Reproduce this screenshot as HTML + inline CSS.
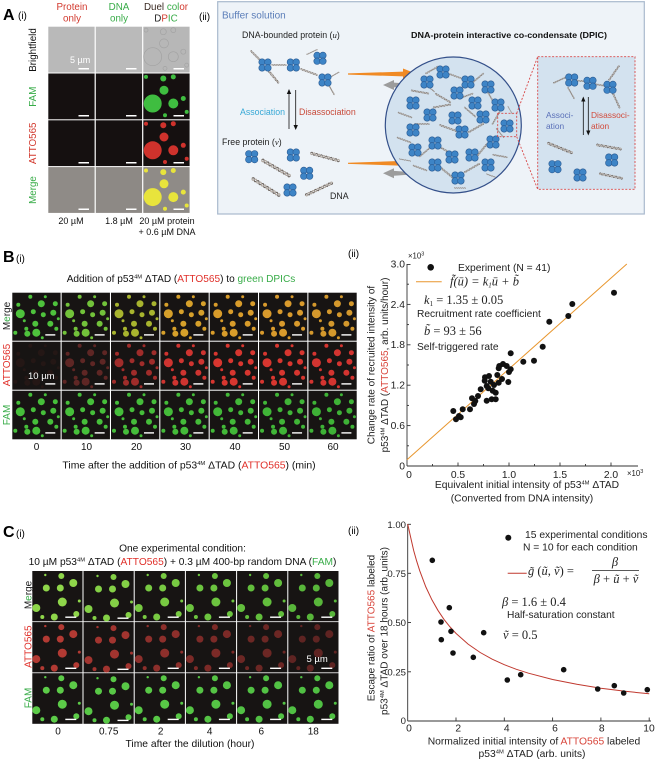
<!DOCTYPE html>
<html><head><meta charset="utf-8"><style>
html,body{margin:0;padding:0;background:#fff;}
svg{display:block;}
text{font-family:"Liberation Sans",Arial,sans-serif;}
.s{font-family:"Liberation Serif","DejaVu Serif",serif;}
</style></head><body>
<svg width="655" height="762" viewBox="0 0 655 762" xmlns="http://www.w3.org/2000/svg" xmlns:xlink="http://www.w3.org/1999/xlink">
<defs>
<g id="pr" fill="#3d84c6" stroke="#2a5a92" stroke-width="0.6"><circle cx="-2.9" cy="-2.9" r="3.3"/><circle cx="2.9" cy="-2.9" r="3.3"/><circle cx="-2.9" cy="2.9" r="3.3"/><circle cx="2.9" cy="2.9" r="3.3"/></g>
<g id="dna" fill="none"><path d="M-15,0 Q-13.75,-2.4 -12.5,0 T-10,0 T-7.5,0 T-5,0 T-2.5,0 T0,0 T2.5,0 T5,0 T7.5,0 T10,0 T12.5,0 T15,0" stroke="#6f6762" stroke-width="1.1"/><path d="M-15,0 Q-13.75,2.4 -12.5,0 T-10,0 T-7.5,0 T-5,0 T-2.5,0 T0,0 T2.5,0 T5,0 T7.5,0 T10,0 T12.5,0 T15,0" stroke="#b0a79f" stroke-width="1.1"/></g>
<g id="bp" fill="currentColor"><circle cx="29" cy="11" r="3.5"/><circle cx="18" cy="4" r="2"/><circle cx="43" cy="11" r="2.5"/><circle cx="8" cy="21" r="4.5"/><circle cx="6" cy="12" r="2"/><circle cx="21" cy="19" r="2.5"/><circle cx="31" cy="22" r="2.5"/><circle cx="41" cy="20" r="3"/><circle cx="23" cy="31" r="3"/><circle cx="38" cy="31" r="3"/><circle cx="14" cy="36" r="2"/><circle cx="24" cy="40" r="4"/><circle cx="15" cy="41" r="3"/><circle cx="3" cy="40" r="2"/><circle cx="44" cy="36" r="2"/><circle cx="33" cy="4" r="1.5"/><circle cx="12" cy="28" r="1.5"/><circle cx="46" cy="26" r="1.5"/><circle cx="30" cy="45" r="1.5"/><rect x="33" y="41.5" width="10" height="1.4" fill="#fff"/></g>
<g id="cp" fill="currentColor"><circle cx="29" cy="5" r="3"/><circle cx="41" cy="12" r="4"/><circle cx="14" cy="17" r="3.5"/><circle cx="28" cy="17" r="3.5"/><circle cx="30" cy="31" r="4.5"/><circle cx="4" cy="37" r="4"/><circle cx="22" cy="46" r="3.5"/><circle cx="44" cy="43" r="3"/><circle cx="10" cy="46" r="2"/><circle cx="13" cy="4" r="1.2"/><circle cx="47" cy="30" r="1.5"/><rect x="33" y="45.5" width="11" height="1.4" fill="#fff"/></g>
<g id="ap"><circle cx="20" cy="5" r="3"/><circle cx="30" cy="3.4" r="2.5"/><circle cx="2.7" cy="3.4" r="2"/><circle cx="20.7" cy="16.7" r="4.5"/><circle cx="9.4" cy="30" r="9"/><circle cx="30" cy="30" r="5"/><circle cx="40" cy="25" r="2.5"/><circle cx="21.7" cy="41.7" r="2"/><circle cx="43.4" cy="38.4" r="2"/></g>
<clipPath id="cc"><circle cx="453.3" cy="125" r="67.5"/></clipPath>
</defs>

<!-- ============ A(i) ============ -->
<text x="3" y="20" font-size="16" font-weight="bold">A</text>
<text x="18" y="19" font-size="10">(i)</text>
<g font-size="9.8" text-anchor="middle">
<text x="72" y="10" fill="#d2392e">Protein</text><text x="72" y="21.5" fill="#d2392e">only</text>
<text x="119" y="10" fill="#38ac48">DNA</text><text x="119" y="21.5" fill="#38ac48">only</text>
<text x="166" y="10"><tspan fill="#3a2a22">Duel </tspan><tspan fill="#38ac48">col</tspan><tspan fill="#d2392e">or</tspan></text>
<text x="166" y="21.5"><tspan fill="#222">D</tspan><tspan fill="#d2392e">P</tspan><tspan fill="#38ac48">IC</tspan></text>
</g>
<g font-size="9.8" text-anchor="middle">
<text transform="translate(36,50) rotate(-90)" fill="#111">Brightfield</text>
<text transform="translate(36,96.7) rotate(-90)" fill="#38ac48">FAM</text>
<text transform="translate(36,143.3) rotate(-90)" fill="#d2392e">ATTO565</text>
<text transform="translate(36,190) rotate(-90)" fill="#38ac48">Merge</text>
</g>
<!-- tiles -->
<rect x="48.3" y="26.7" width="46.3" height="45.8" fill="#b9b9b9"/>
<rect x="95.8" y="26.7" width="46.3" height="45.8" fill="#bababa"/>
<rect x="143.3" y="26.7" width="46.3" height="45.8" fill="#b7b7b7"/>
<use xlink:href="#ap" x="143.3" y="26.7" fill="none" stroke="#a3a3a3" stroke-width="0.7"/>
<rect x="48.3" y="73.5" width="46.3" height="45.8" fill="#151010"/>
<rect x="95.8" y="73.5" width="46.3" height="45.8" fill="#151010"/>
<rect x="143.3" y="73.5" width="46.3" height="45.8" fill="#151010"/>
<use xlink:href="#ap" x="143.3" y="73.5" fill="#3fbd40"/>
<rect x="48.3" y="120.3" width="46.3" height="45.8" fill="#151010"/>
<rect x="95.8" y="120.3" width="46.3" height="45.8" fill="#151010"/>
<rect x="143.3" y="120.3" width="46.3" height="45.8" fill="#151010"/>
<use xlink:href="#ap" x="143.3" y="120.3" fill="#cf322c"/>
<rect x="48.3" y="167.1" width="46.3" height="45.8" fill="#8f8b87"/>
<rect x="95.8" y="167.1" width="46.3" height="45.8" fill="#8d8985"/>
<rect x="143.3" y="167.1" width="46.3" height="45.8" fill="#8f8b87"/>
<use xlink:href="#ap" x="143.3" y="167.1" fill="#e8e43c"/>
<g fill="#fff">
<rect x="78.5" y="68" width="10.5" height="1.5"/><rect x="126" y="68" width="10.5" height="1.5"/><rect x="173.5" y="68" width="10.5" height="1.5"/>
<rect x="78.5" y="115" width="10.5" height="1.5"/><rect x="126" y="115" width="10.5" height="1.5"/><rect x="173.5" y="115" width="10.5" height="1.5"/>
<rect x="78.5" y="162" width="10.5" height="1.5"/><rect x="126" y="162" width="10.5" height="1.5"/><rect x="173.5" y="162" width="10.5" height="1.5"/>
<rect x="78.5" y="208.5" width="10.5" height="1.5"/><rect x="126" y="208.5" width="10.5" height="1.5"/><rect x="173.5" y="208.5" width="10.5" height="1.5"/>
</g>
<text x="70" y="63" font-size="9" fill="#fff">5 µm</text>
<g font-size="9" text-anchor="middle" fill="#111">
<text x="71" y="224">20 µM</text><text x="119" y="224">1.8 µM</text>
<text x="167" y="224">20 µM protein</text><text x="167" y="235">+ 0.6 µM DNA</text>
</g>

<!-- ============ A(ii) ============ -->
<text x="199" y="20" font-size="10">(ii)</text>
<rect x="217.7" y="1.7" width="426.6" height="212.3" fill="#eef3f8" stroke="#a9b9cd" stroke-width="1.2"/>
<text x="222" y="18.5" font-size="10" fill="#5a7db8">Buffer solution</text>
<text x="242" y="38" font-size="8.8" fill="#222">DNA-bounded protein (<tspan class="s" font-style="italic">u</tspan>)</text>
<text x="411" y="38" font-size="8.5" font-weight="bold" fill="#111" textLength="196" lengthAdjust="spacingAndGlyphs">DNA-protein interactive co-condensate (DPIC)</text>
<!-- bound group -->
<g>
<use xlink:href="#dna" transform="translate(257,57) rotate(45) scale(0.6)"/>
<use xlink:href="#dna" transform="translate(272,75) rotate(50) scale(0.7)"/>
<use xlink:href="#dna" transform="translate(279,65) rotate(0) scale(0.5)"/>
<use xlink:href="#dna" transform="translate(309,72) rotate(20) scale(0.6)"/>
<use xlink:href="#dna" transform="translate(331,89) rotate(60) scale(0.45)"/>
<use xlink:href="#dna" transform="translate(334,75) rotate(-30) scale(0.4)"/>
<use xlink:href="#dna" transform="translate(312,52) rotate(-25) scale(0.4)"/>
<use xlink:href="#pr" x="265" y="65"/><use xlink:href="#pr" x="293.3" y="65"/><use xlink:href="#pr" x="320" y="58.3"/><use xlink:href="#pr" x="325" y="80"/>
</g>
<text x="240" y="115" font-size="8.8" fill="#37a8d6">Association</text>
<text x="299" y="115" font-size="8.8" fill="#c84a3a">Disassociation</text>
<g stroke="#111" stroke-width="0.8"><line x1="289" y1="129" x2="289" y2="93"/><line x1="295.7" y1="90" x2="295.7" y2="126"/></g>
<polygon points="289,89 286.8,94 291.2,94" fill="#111"/><polygon points="295.7,130 293.5,125 297.9,125" fill="#111"/>
<text x="222" y="145" font-size="8.8" fill="#222">Free protein (<tspan class="s" font-style="italic">v</tspan>)</text>
<use xlink:href="#dna" transform="translate(276,168) rotate(30) scale(1.1)"/>
<use xlink:href="#dna" transform="translate(325,157) rotate(15) scale(1.0)"/>
<use xlink:href="#dna" transform="translate(266,187) rotate(32) scale(1.1)"/>
<use xlink:href="#dna" transform="translate(319,189) rotate(-25) scale(1.0)"/>
<use xlink:href="#pr" x="251.7" y="156.7"/><use xlink:href="#pr" x="293.3" y="155"/><use xlink:href="#pr" x="306.7" y="173.3"/><use xlink:href="#pr" x="290" y="190"/>
<text x="330" y="199" font-size="8.8" fill="#222">DNA</text>
<!-- arrows -->
<polygon points="348,73.4 403,71.6 403,68.5 417,74 403,79.5 403,76.4 348,74.6" fill="#f08a24"/>
<polygon points="417,84.2 394,82.6 394,80 383,85 394,90 394,87.4 417,85.8" fill="#9c9c9c"/>
<polygon points="348,162.7 403,160.9 403,157.8 417,163.3 403,168.8 403,165.7 348,163.9" fill="#f08a24"/>
<polygon points="417,172.5 394,170.9 394,168.3 383,173.3 394,178.3 394,175.7 417,174.1" fill="#9c9c9c"/>
<!-- condensate -->
<circle cx="453.3" cy="125" r="68" fill="#d3e2ef" stroke="#34508a" stroke-width="1.2"/>
<g clip-path="url(#cc)">
<use xlink:href="#dna" transform="translate(432,70) rotate(-30) scale(0.5)"/>
<use xlink:href="#dna" transform="translate(455,76) rotate(20) scale(0.5)"/>
<use xlink:href="#dna" transform="translate(478,78) rotate(-40) scale(0.5)"/>
<use xlink:href="#dna" transform="translate(420,92) rotate(10) scale(0.6)"/>
<use xlink:href="#dna" transform="translate(443,98) rotate(30) scale(0.6)"/>
<use xlink:href="#dna" transform="translate(466,96) rotate(-20) scale(0.5)"/>
<use xlink:href="#dna" transform="translate(490,96) rotate(60) scale(0.5)"/>
<use xlink:href="#dna" transform="translate(405,115) rotate(20) scale(0.5)"/>
<use xlink:href="#dna" transform="translate(442,106) rotate(-10) scale(0.6)"/>
<use xlink:href="#dna" transform="translate(470,112) rotate(40) scale(0.5)"/>
<use xlink:href="#dna" transform="translate(496,118) rotate(-60) scale(0.5)"/>
<use xlink:href="#dna" transform="translate(422,124) rotate(0) scale(0.5)"/>
<use xlink:href="#dna" transform="translate(448,128) rotate(20) scale(0.6)"/>
<use xlink:href="#dna" transform="translate(476,128) rotate(-30) scale(0.6)"/>
<use xlink:href="#dna" transform="translate(500,133) rotate(50) scale(0.4)"/>
<use xlink:href="#dna" transform="translate(404,140) rotate(20) scale(0.5)"/>
<use xlink:href="#dna" transform="translate(425,152) rotate(-40) scale(0.5)"/>
<use xlink:href="#dna" transform="translate(445,150) rotate(30) scale(0.6)"/>
<use xlink:href="#dna" transform="translate(482,150) rotate(-50) scale(0.6)"/>
<use xlink:href="#dna" transform="translate(500,156) rotate(10) scale(0.5)"/>
<use xlink:href="#dna" transform="translate(420,168) rotate(20) scale(0.5)"/>
<use xlink:href="#dna" transform="translate(446,172) rotate(40) scale(0.6)"/>
<use xlink:href="#dna" transform="translate(472,168) rotate(-30) scale(0.6)"/>
<use xlink:href="#dna" transform="translate(492,176) rotate(20) scale(0.4)"/>
<use xlink:href="#dna" transform="translate(460,188) rotate(0) scale(0.4)"/>
<use xlink:href="#dna" transform="translate(405,160) rotate(10) scale(0.4)"/>
<use xlink:href="#dna" transform="translate(430,88) rotate(40) scale(0.4)"/>
<use xlink:href="#dna" transform="translate(510,110) rotate(60) scale(0.3)"/>
<use xlink:href="#pr" x="443" y="72"/><use xlink:href="#pr" x="427" y="82"/><use xlink:href="#pr" x="468" y="82"/><use xlink:href="#pr" x="488" y="87"/>
<use xlink:href="#pr" x="413" y="103"/><use xlink:href="#pr" x="457" y="93"/><use xlink:href="#pr" x="475" y="103"/><use xlink:href="#pr" x="498" y="105"/>
<use xlink:href="#pr" x="430" y="115"/><use xlink:href="#pr" x="455" y="118"/><use xlink:href="#pr" x="483" y="117"/><use xlink:href="#pr" x="507" y="126"/>
<use xlink:href="#pr" x="413" y="130"/><use xlink:href="#pr" x="435" y="143"/><use xlink:href="#pr" x="462" y="132"/><use xlink:href="#pr" x="493" y="142"/>
<use xlink:href="#pr" x="415" y="150"/><use xlink:href="#pr" x="452" y="157"/><use xlink:href="#pr" x="472" y="155"/><use xlink:href="#pr" x="435" y="165"/>
<use xlink:href="#pr" x="488" y="165"/><use xlink:href="#pr" x="458" y="178"/>
</g>
<g fill="none" stroke="#d84a4a" stroke-width="0.9" stroke-dasharray="2,1.6">
<rect x="497.7" y="113.3" width="19" height="23.4"/>
<line x1="516.7" y1="113.3" x2="537.7" y2="56.7"/><line x1="516.7" y1="136.7" x2="537.7" y2="189.3"/>
</g>
<rect x="537.7" y="56.7" width="97.3" height="132.6" fill="#d3e2ef" stroke="#d84a4a" stroke-width="0.9" stroke-dasharray="2,1.6"/>
<use xlink:href="#dna" transform="translate(560,80) rotate(-25) scale(0.5)"/>
<use xlink:href="#dna" transform="translate(581,81) rotate(5) scale(0.5)"/>
<use xlink:href="#dna" transform="translate(600,85) rotate(10) scale(0.5)"/>
<use xlink:href="#dna" transform="translate(614,73) rotate(-55) scale(0.6)"/>
<use xlink:href="#dna" transform="translate(616,100) rotate(65) scale(0.6)"/>
<use xlink:href="#dna" transform="translate(571,93) rotate(60) scale(0.45)"/>
<use xlink:href="#pr" x="571.7" y="80"/><use xlink:href="#pr" x="590" y="83.3"/><use xlink:href="#pr" x="610" y="87.3"/>
<text x="546" y="118" font-size="8.4" fill="#5a70b8">Associ-</text><text x="546" y="129" font-size="8.4" fill="#5a70b8">ation</text>
<text x="591" y="118" font-size="8.4" fill="#d24a3a">Disassoci-</text><text x="591" y="129" font-size="8.4" fill="#d24a3a">ation</text>
<g stroke="#111" stroke-width="0.8"><line x1="583.3" y1="135" x2="583.3" y2="100"/><line x1="588.3" y1="97" x2="588.3" y2="132"/></g>
<polygon points="583.3,96.5 581.2,101.5 585.4,101.5" fill="#111"/><polygon points="588.3,135.5 586.2,130.5 590.4,130.5" fill="#111"/>
<use xlink:href="#dna" transform="translate(560,148) rotate(22) scale(0.9)"/>
<use xlink:href="#dna" transform="translate(609,147) rotate(10) scale(0.85)"/>
<use xlink:href="#dna" transform="translate(611,176) rotate(12) scale(0.8)"/>
<use xlink:href="#pr" x="611.7" y="160"/><use xlink:href="#pr" x="555" y="166.7"/><use xlink:href="#pr" x="580" y="175"/>

<!-- ============ B(i) ============ -->
<text x="3" y="262" font-size="16" font-weight="bold">B</text>
<text x="16" y="262" font-size="10">(i)</text>
<text x="181" y="282" font-size="10.1" text-anchor="middle" fill="#111">Addition of p53<tspan font-size="5.8" dy="-3.6">4M</tspan><tspan dy="3.6"> ΔTAD (</tspan><tspan fill="#e0302a">ATTO565</tspan>) to <tspan fill="#38ac48">green DPICs</tspan></text>
<g font-size="10" text-anchor="middle">
<text transform="translate(10,316) rotate(-90)" fill="#222">M<tspan fill="#38ac48">e</tspan>rge</text>
<text transform="translate(10,365) rotate(-90)" fill="#e0302a">ATTO565</text>
<text transform="translate(10,415) rotate(-90)" fill="#38ac48">FAM</text>
</g>
<g>
<rect x="12.3" y="292.7" width="48.3" height="48" fill="#171413"/><use xlink:href="#bp" x="12.3" y="292.7" style="color:#4ec23c"/>
<rect x="61.65" y="292.7" width="48.3" height="48" fill="#171413"/><use xlink:href="#bp" x="61.65" y="292.7" style="color:#72c23a"/>
<rect x="111" y="292.7" width="48.3" height="48" fill="#171413"/><use xlink:href="#bp" x="111" y="292.7" style="color:#a8b42e"/>
<rect x="160.35" y="292.7" width="48.3" height="48" fill="#171413"/><use xlink:href="#bp" x="160.35" y="292.7" style="color:#d6a02a"/>
<rect x="209.7" y="292.7" width="48.3" height="48" fill="#171413"/><use xlink:href="#bp" x="209.7" y="292.7" style="color:#d99c2a"/>
<rect x="259.05" y="292.7" width="48.3" height="48" fill="#171413"/><use xlink:href="#bp" x="259.05" y="292.7" style="color:#d99a2c"/>
<rect x="308.4" y="292.7" width="48.3" height="48" fill="#171413"/><use xlink:href="#bp" x="308.4" y="292.7" style="color:#d4982c"/>

<rect x="12.3" y="341.7" width="48.3" height="48" fill="#171413"/><use xlink:href="#bp" x="12.3" y="341.7" style="color:#241715"/>
<rect x="61.65" y="341.7" width="48.3" height="48" fill="#171413"/><use xlink:href="#bp" x="61.65" y="341.7" style="color:#5e2624"/>
<rect x="111" y="341.7" width="48.3" height="48" fill="#171413"/><use xlink:href="#bp" x="111" y="341.7" style="color:#a02c2a"/>
<rect x="160.35" y="341.7" width="48.3" height="48" fill="#171413"/><use xlink:href="#bp" x="160.35" y="341.7" style="color:#cf3430"/>
<rect x="209.7" y="341.7" width="48.3" height="48" fill="#171413"/><use xlink:href="#bp" x="209.7" y="341.7" style="color:#d8362f"/>
<rect x="259.05" y="341.7" width="48.3" height="48" fill="#171413"/><use xlink:href="#bp" x="259.05" y="341.7" style="color:#d8362f"/>
<rect x="308.4" y="341.7" width="48.3" height="48" fill="#171413"/><use xlink:href="#bp" x="308.4" y="341.7" style="color:#d43430"/>

<rect x="12.3" y="390.7" width="48.3" height="48.6" fill="#171413"/><use xlink:href="#bp" x="12.3" y="390.7" style="color:#46bf3a"/>
<rect x="61.65" y="390.7" width="48.3" height="48.6" fill="#171413"/><use xlink:href="#bp" x="61.65" y="390.7" style="color:#46bf3a"/>
<rect x="111" y="390.7" width="48.3" height="48.6" fill="#171413"/><use xlink:href="#bp" x="111" y="390.7" style="color:#45bd3a"/>
<rect x="160.35" y="390.7" width="48.3" height="48.6" fill="#171413"/><use xlink:href="#bp" x="160.35" y="390.7" style="color:#44bb39"/>
<rect x="209.7" y="390.7" width="48.3" height="48.6" fill="#171413"/><use xlink:href="#bp" x="209.7" y="390.7" style="color:#42b838"/>
<rect x="259.05" y="390.7" width="48.3" height="48.6" fill="#171413"/><use xlink:href="#bp" x="259.05" y="390.7" style="color:#40b537"/>
<rect x="308.4" y="390.7" width="48.3" height="48.6" fill="#171413"/><use xlink:href="#bp" x="308.4" y="390.7" style="color:#3eb236"/>
</g>
<text x="28" y="379" font-size="9.5" fill="#fff">10 µm</text>
<g font-size="10" text-anchor="middle" fill="#111">
<text x="36.5" y="450">0</text><text x="86.5" y="450">10</text><text x="136.5" y="450">20</text><text x="185.5" y="450">30</text><text x="235" y="450">40</text><text x="284.5" y="450">50</text><text x="333" y="450">60</text>
</g>
<text x="189" y="468.5" font-size="10.4" text-anchor="middle" fill="#111">Time after the addition of p53<tspan font-size="5.8" dy="-3.6">4M</tspan><tspan dy="3.6"> ΔTAD (</tspan><tspan fill="#e0302a">ATTO565</tspan>) (min)</text>

<!-- ============ B(ii) ============ -->
<text x="348" y="257" font-size="10">(ii)</text>
<g stroke="#333" stroke-width="0.9" fill="none">
<line x1="407" y1="264" x2="407" y2="466"/>
<line x1="407" y1="466" x2="638" y2="466"/>
<line x1="407" y1="425.6" x2="410.5" y2="425.6"/><line x1="407" y1="385.2" x2="410.5" y2="385.2"/><line x1="407" y1="344.8" x2="410.5" y2="344.8"/><line x1="407" y1="304.4" x2="410.5" y2="304.4"/><line x1="407" y1="264.5" x2="410.5" y2="264.5"/>
<line x1="407" y1="445.8" x2="409" y2="445.8"/><line x1="407" y1="405.4" x2="409" y2="405.4"/><line x1="407" y1="365" x2="409" y2="365"/><line x1="407" y1="324.6" x2="409" y2="324.6"/><line x1="407" y1="284.2" x2="409" y2="284.2"/>
<line x1="458" y1="466" x2="458" y2="462.5"/><line x1="509" y1="466" x2="509" y2="462.5"/><line x1="560" y1="466" x2="560" y2="462.5"/><line x1="611" y1="466" x2="611" y2="462.5"/>
<line x1="432.5" y1="466" x2="432.5" y2="464"/><line x1="483.5" y1="466" x2="483.5" y2="464"/><line x1="534.5" y1="466" x2="534.5" y2="464"/><line x1="585.5" y1="466" x2="585.5" y2="464"/>
</g>
<g font-size="10.3" fill="#222" text-anchor="end">
<text x="405" y="469.5">0</text><text x="405" y="429">0.6</text><text x="405" y="388.6">1.2</text><text x="405" y="348.2">1.8</text><text x="405" y="307.8">2.4</text><text x="405" y="267.5">3.0</text>
</g>
<text x="408" y="258.5" font-size="7.8" fill="#222">×10<tspan font-size="5.5" dy="-3">3</tspan></text>
<g font-size="10.3" fill="#222" text-anchor="middle">
<text x="409" y="478">0</text><text x="458" y="478">0.5</text><text x="509" y="478">1.0</text><text x="560" y="478">1.5</text><text x="611" y="478">2.0</text>
</g>
<text x="627" y="476" font-size="7.8" fill="#222">×10<tspan font-size="5.5" dy="-3">3</tspan></text>
<text x="527" y="488" font-size="10.3" text-anchor="middle" fill="#222">Equivalent initial intensity of p53<tspan font-size="5.8" dy="-3.6">4M</tspan><tspan dy="3.6"> ΔTAD</tspan></text>
<text x="522" y="501.5" font-size="10.3" text-anchor="middle" fill="#222">(Converted from DNA intensity)</text>
<text transform="translate(374.5,365) rotate(-90)" font-size="10" text-anchor="middle" fill="#222">Change rate of recruited intensity of</text>
<text transform="translate(388,365) rotate(-90)" font-size="10" text-anchor="middle" fill="#222">p53<tspan font-size="5.8" dy="-3.6">4M</tspan><tspan dy="3.6"> ΔTAD (</tspan><tspan fill="#d8443a">ATTO565</tspan>, arb. units/hour)</text>
<line x1="407" y1="459.7" x2="626.8" y2="264" stroke="#e8962e" stroke-width="1"/>
<g fill="#111">
<circle cx="542.7" cy="346.7" r="3"/><circle cx="510.7" cy="353.3" r="3"/><circle cx="523.3" cy="361.7" r="3"/><circle cx="534" cy="360.7" r="3"/><circle cx="499.3" cy="366" r="3"/><circle cx="498.7" cy="368.3" r="3"/><circle cx="506.7" cy="366" r="3"/><circle cx="510.7" cy="369.3" r="3"/><circle cx="509" cy="372" r="3"/><circle cx="497.3" cy="375" r="3"/><circle cx="485" cy="377.3" r="3"/><circle cx="484.7" cy="380.7" r="3"/><circle cx="490.7" cy="381.7" r="3"/><circle cx="498.7" cy="382.7" r="3"/><circle cx="508.3" cy="382" r="3"/><circle cx="486.7" cy="386" r="3"/><circle cx="480.7" cy="389.3" r="3"/><circle cx="492.7" cy="390.7" r="3"/><circle cx="495.7" cy="392.7" r="3"/><circle cx="488.3" cy="388.3" r="3"/><circle cx="491.7" cy="399.3" r="3"/><circle cx="495.7" cy="399.3" r="3"/><circle cx="486.7" cy="400.7" r="3"/><circle cx="472" cy="398.3" r="3"/><circle cx="475.3" cy="401" r="3"/><circle cx="470" cy="409.3" r="3"/><circle cx="462.7" cy="409.3" r="3"/><circle cx="453.3" cy="411" r="3"/><circle cx="459" cy="416" r="3"/><circle cx="456" cy="419.3" r="3"/><circle cx="460.7" cy="417.3" r="3"/><circle cx="614" cy="292.7" r="3"/><circle cx="572.3" cy="304" r="3"/><circle cx="568.3" cy="316" r="3"/><circle cx="549.3" cy="321.7" r="3"/><circle cx="502" cy="379" r="3"/><circle cx="478" cy="396" r="3"/><circle cx="494" cy="385" r="3"/><circle cx="489" cy="376" r="3"/><circle cx="503" cy="364" r="3"/><circle cx="474" cy="404" r="3"/>
<circle cx="430.7" cy="267.3" r="3.3"/>
</g>
<text x="458" y="271" font-size="10.3" fill="#222">Experiment (N = 41)</text>
<line x1="416" y1="281.7" x2="441.7" y2="281.7" stroke="#e8962e" stroke-width="1"/>
<text class="s" x="450" y="285.5" font-size="12.5" font-style="italic" fill="#222">f̃(ū) = k<tspan font-size="7" dy="2">1</tspan><tspan dy="-2">ū + b̃</tspan></text>
<text class="s" x="424" y="304" font-size="12.5" fill="#222"><tspan font-style="italic">k</tspan><tspan font-size="7" dy="2">1</tspan><tspan dy="-2"> = 1.35 ± 0.05</tspan></text>
<text x="417" y="317" font-size="10.2" fill="#222">Recruitment rate coefficient</text>
<text class="s" x="424" y="335" font-size="12.5" fill="#222"><tspan font-style="italic">b̃</tspan> = 93 ± 56</text>
<text x="417" y="350" font-size="10.2" fill="#222">Self-triggered rate</text>

<!-- ============ C(i) ============ -->
<text x="3" y="537" font-size="16" font-weight="bold">C</text>
<text x="16" y="537" font-size="10">(i)</text>
<text x="182.5" y="551.5" font-size="10.2" text-anchor="middle" fill="#111">One experimental condition:</text>
<text x="182.5" y="565" font-size="10.2" text-anchor="middle" fill="#111">10 µM p53<tspan font-size="5.8" dy="-3.6">4M</tspan><tspan dy="3.6"> ΔTAD (</tspan><tspan fill="#e0302a">ATTO565</tspan>) + 0.3 µM 400-bp random DNA (<tspan fill="#38ac48">FAM</tspan>)</text>
<g font-size="10" text-anchor="middle">
<text transform="translate(31.5,595) rotate(-90)" fill="#222">M<tspan fill="#38ac48">e</tspan>rge</text>
<text transform="translate(31.5,646.7) rotate(-90)" fill="#e0302a">ATTO565</text>
<text transform="translate(31.5,698) rotate(-90)" fill="#38ac48">FAM</text>
</g>
<g>
<rect x="32.3" y="571" width="50.2" height="50.3" fill="#171413"/><use xlink:href="#cp" x="32.3" y="571" style="color:#8fd64a"/>
<rect x="83.5" y="571" width="50.2" height="50.3" fill="#171413"/><use xlink:href="#cp" x="84.5" y="572" style="color:#84d046"/>
<rect x="134.7" y="571" width="50.2" height="50.3" fill="#171413"/><use xlink:href="#cp" x="134.7" y="571" style="color:#78ca42"/>
<rect x="185.9" y="571" width="50.2" height="50.3" fill="#171413"/><use xlink:href="#cp" x="185.9" y="571" style="color:#6cc43f"/>
<rect x="237.1" y="571" width="50.2" height="50.3" fill="#171413"/><use xlink:href="#cp" x="237.1" y="571" style="color:#62be3c"/>
<rect x="288.3" y="571" width="50.2" height="50.3" fill="#171413"/><use xlink:href="#cp" x="288.3" y="571" style="color:#58b63a"/>

<rect x="32.3" y="622.1" width="50.2" height="50.3" fill="#171413"/><use xlink:href="#cp" x="32.3" y="622.1" style="color:#b33a33"/>
<rect x="83.5" y="622.1" width="50.2" height="50.3" fill="#171413"/><use xlink:href="#cp" x="84.5" y="623.1" style="color:#a2342f"/>
<rect x="134.7" y="622.1" width="50.2" height="50.3" fill="#171413"/><use xlink:href="#cp" x="134.7" y="622.1" style="color:#8d2f2b"/>
<rect x="185.9" y="622.1" width="50.2" height="50.3" fill="#171413"/><use xlink:href="#cp" x="185.9" y="622.1" style="color:#7c2a27"/>
<rect x="237.1" y="622.1" width="50.2" height="50.3" fill="#171413"/><use xlink:href="#cp" x="237.1" y="622.1" style="color:#6c2724"/>
<rect x="288.3" y="622.1" width="50.2" height="50.3" fill="#171413"/><use xlink:href="#cp" x="288.3" y="622.1" style="color:#5f2422"/>

<rect x="32.3" y="673.2" width="50.2" height="50.6" fill="#171413"/><use xlink:href="#cp" x="32.3" y="673.2" style="color:#5ccb48"/>
<rect x="83.5" y="673.2" width="50.2" height="50.6" fill="#171413"/><use xlink:href="#cp" x="84.5" y="674.2" style="color:#58c846"/>
<rect x="134.7" y="673.2" width="50.2" height="50.6" fill="#171413"/><use xlink:href="#cp" x="134.7" y="673.2" style="color:#58c846"/>
<rect x="185.9" y="673.2" width="50.2" height="50.6" fill="#171413"/><use xlink:href="#cp" x="185.9" y="673.2" style="color:#55c445"/>
<rect x="237.1" y="673.2" width="50.2" height="50.6" fill="#171413"/><use xlink:href="#cp" x="237.1" y="673.2" style="color:#52c244"/>
<rect x="288.3" y="673.2" width="50.2" height="50.6" fill="#171413"/><use xlink:href="#cp" x="288.3" y="673.2" style="color:#50c043"/>
</g>
<text x="306.5" y="662" font-size="9.5" fill="#fff">5 µm</text>
<g font-size="10" text-anchor="middle" fill="#111">
<text x="58" y="734.5">0</text><text x="108.7" y="734.5">0.75</text><text x="160.7" y="734.5">2</text><text x="209.7" y="734.5">4</text><text x="261.3" y="734.5">6</text><text x="313.3" y="734.5">18</text>
</g>
<text x="190" y="747" font-size="10.3" text-anchor="middle" fill="#111">Time after the dilution (hour)</text>

<!-- ============ C(ii) ============ -->
<text x="348" y="534" font-size="10">(ii)</text>
<g stroke="#333" stroke-width="0.9" fill="none">
<line x1="407.7" y1="524" x2="407.7" y2="721"/>
<line x1="407.7" y1="721" x2="651" y2="721"/>
<line x1="407.7" y1="524.3" x2="411" y2="524.3"/><line x1="407.7" y1="573.3" x2="411" y2="573.3"/><line x1="407.7" y1="622.5" x2="411" y2="622.5"/><line x1="407.7" y1="671.8" x2="411" y2="671.8"/>
<line x1="456" y1="721" x2="456" y2="717.5"/><line x1="504.3" y1="721" x2="504.3" y2="717.5"/><line x1="552.6" y1="721" x2="552.6" y2="717.5"/><line x1="600.9" y1="721" x2="600.9" y2="717.5"/><line x1="649.2" y1="721" x2="649.2" y2="717.5"/>
</g>
<g font-size="9.6" fill="#222" text-anchor="end">
<text x="406" y="724">0</text><text x="406" y="675.3">0.25</text><text x="406" y="626">0.50</text><text x="406" y="576.8">0.75</text><text x="406" y="528">1.00</text>
</g>
<g font-size="10.3" fill="#222" text-anchor="middle">
<text x="409" y="731.5">0</text><text x="458.3" y="731.5">2</text><text x="506.7" y="731.5">4</text><text x="555" y="731.5">6</text><text x="601.7" y="731.5">8</text><text x="649" y="731.5">10</text>
</g>
<text x="534" y="744.5" font-size="10.3" text-anchor="middle" fill="#222">Normalized initial intensity of <tspan fill="#d8443a">ATTO565</tspan> labeled</text>
<text x="532" y="757" font-size="10.3" text-anchor="middle" fill="#222">p53<tspan font-size="5.8" dy="-3.6">4M</tspan><tspan dy="3.6"> ΔTAD (arb. units)</tspan></text>
<text transform="translate(374.7,628) rotate(-90)" font-size="10" text-anchor="middle" fill="#222">Escape ratio of <tspan fill="#d8443a">ATTO565</tspan> labeled</text>
<text transform="translate(387.5,631) rotate(-90)" font-size="10" text-anchor="middle" fill="#222">p53<tspan font-size="5.8" dy="-3.6">4M</tspan><tspan dy="3.6"> ΔTAD over 18 hours (arb. units)</tspan></text>
<polyline fill="none" stroke="#c0392f" stroke-width="1" points="407.7,524 410.7,537.5 413.7,550.6 416.7,561.2 419.8,570.9 425.8,586.9 431.9,599.8 437.9,610.3 443.9,619.3 450,626.9 456,633.4 468.1,644.1 480.2,652.5 492.2,659.2 504.3,664.7 516.4,669.3 528.5,673.2 552.6,679.5 576.8,684.3 600.9,688.2 625.1,691.3 649.2,693.8"/>
<g fill="#111">
<circle cx="432.3" cy="560.3" r="2.8"/><circle cx="441" cy="622" r="2.8"/><circle cx="449.3" cy="607.7" r="2.8"/><circle cx="451" cy="631.3" r="2.8"/><circle cx="441.3" cy="639.7" r="2.8"/><circle cx="453" cy="653" r="2.8"/><circle cx="473.3" cy="657.3" r="2.8"/><circle cx="483.7" cy="632.7" r="2.8"/><circle cx="507.3" cy="680" r="2.8"/><circle cx="520.7" cy="674.7" r="2.8"/><circle cx="563.7" cy="669.7" r="2.8"/><circle cx="597.7" cy="689" r="2.8"/><circle cx="614.3" cy="685.7" r="2.8"/><circle cx="623.7" cy="693" r="2.8"/><circle cx="647.3" cy="689.7" r="2.8"/>
<circle cx="508.3" cy="537.7" r="3"/>
</g>
<text x="525" y="538" font-size="10.3" fill="#222">15 experimental conditions</text>
<text x="523" y="550.5" font-size="10.3" fill="#222">N = 10 for each condition</text>
<line x1="507.7" y1="573.3" x2="526.7" y2="573.3" stroke="#c0392f" stroke-width="1"/>
<text class="s" x="528" y="575" font-size="12.5" fill="#222"><tspan font-style="italic">g̃</tspan> (<tspan font-style="italic">ũ</tspan>, <tspan font-style="italic">ṽ</tspan>) =</text>
<text class="s" x="615" y="566" font-size="12.5" font-style="italic" text-anchor="middle" fill="#222">β</text>
<line x1="592" y1="570.5" x2="639" y2="570.5" stroke="#222" stroke-width="0.7"/>
<text class="s" x="616" y="583" font-size="12.5" text-anchor="middle" fill="#222"><tspan font-style="italic">β</tspan> + <tspan font-style="italic">ũ</tspan> + <tspan font-style="italic">ṽ</tspan></text>
<text class="s" x="502" y="606" font-size="12.5" fill="#222"><tspan font-style="italic">β</tspan> = 1.6 ± 0.4</text>
<text x="507" y="618" font-size="10.2" fill="#222">Half-saturation constant</text>
<text class="s" x="503" y="639" font-size="12.5" fill="#222"><tspan font-style="italic">ṽ</tspan> = 0.5</text>
</svg>
</body></html>
